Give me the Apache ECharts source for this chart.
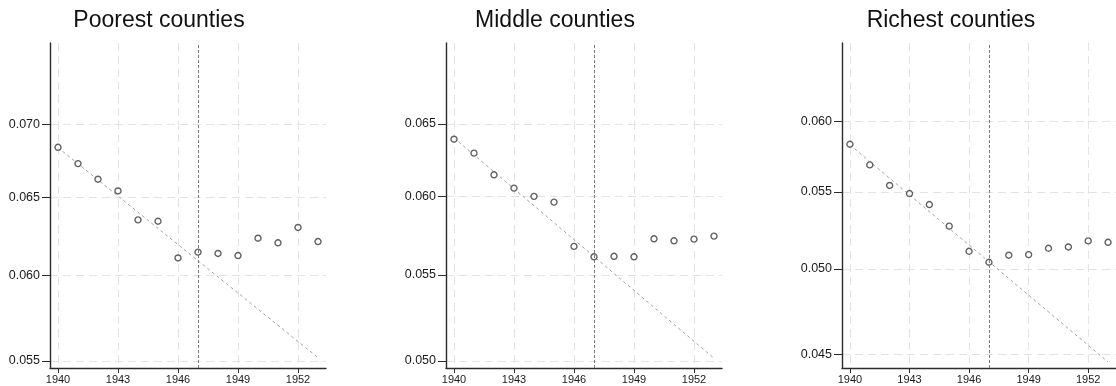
<!DOCTYPE html>
<html>
<head>
<meta charset="utf-8">
<script src="https://cdn.jsdelivr.net/npm/echarts@6/dist/echarts.min.js"></script>
<style>
  html, body { margin: 0; padding: 0; background: #fff; }
  #chart { width: 1116px; height: 386px; }
</style>
</head>
<body>
<div id="chart"></div>
<script>
// Years on the horizontal axis
const years = [1940, 1941, 1942, 1943, 1944, 1945, 1946, 1947, 1948, 1949, 1950, 1951, 1952, 1953];
const xTicks = [1940, 1943, 1946, 1949, 1952];
const breakYear = 1947;

// Panel titles
const titles = ['Poorest counties', 'Middle counties', 'Richest counties'];

// Yearly values per county group
const poorest = [0.06840, 0.06727, 0.06621, 0.06542, 0.06352, 0.06343, 0.06110, 0.06146, 0.06138, 0.06125, 0.06234, 0.06205, 0.06303, 0.06213];
const middle  = [0.06391, 0.06293, 0.06144, 0.06054, 0.05999, 0.05961, 0.05676, 0.05611, 0.05614, 0.05611, 0.05724, 0.05711, 0.05722, 0.05741];
const richest = [0.05834, 0.05687, 0.05544, 0.05489, 0.05415, 0.05272, 0.05111, 0.05042, 0.05086, 0.05090, 0.05130, 0.05138, 0.05177, 0.05168];

// Pre-period trend, extrapolated: values at the first and last year
const trendYears = [1940, 1953];
const poorestTrend = [0.06838, 0.05519];
const middleTrend  = [0.06400, 0.05015];
const richestTrend = [0.05830, 0.04457];

// Y tick labels per panel
const poorestTicks = [0.055, 0.060, 0.065, 0.070];
const middleTicks  = [0.050, 0.055, 0.060, 0.065];
const richestTicks = [0.045, 0.050, 0.055, 0.060];

// Y ranges (log scale)
const poorestRange = [0.05461, 0.07608];
const middleRange  = [0.04961, 0.07109];
const richestRange = [0.04424, 0.06612];

const panels = [
  { values: poorest, trend: poorestTrend, ticks: poorestTicks, range: poorestRange },
  { values: middle,  trend: middleTrend,  ticks: middleTicks,  range: middleRange },
  { values: richest, trend: richestTrend, ticks: richestTicks, range: richestRange }
];

const FONT = '"Liberation Sans", Arial, Helvetica, sans-serif';
const gridLefts = [50, 446, 842];
const titleCenters = [154, 550, 946];

const gridLine = { show: true, lineStyle: { color: '#e3e3e3', type: [8, 5], width: 1 } };
const axisLine = { show: true, onZero: false, lineStyle: { color: '#2b2b2b', width: 1.4 } };

const option = {
  animation: false,
  backgroundColor: '#ffffff',
  title: titles.map((t, i) => ({
    text: t,
    left: titleCenters[i],
    top: 4,
    textAlign: 'center',
    textStyle: { fontFamily: FONT, fontSize: 23, fontWeight: 'normal', color: '#111' }
  })),
  grid: gridLefts.map(l => ({ left: l, top: 43, width: 276, height: 325 })),
  xAxis: panels.map((p, i) => ({
    type: 'value',
    gridIndex: i,
    min: 1939.6,
    max: 1953.4,
    axisLine: axisLine,
    axisTick: { show: true, length: 5, customValues: xTicks, lineStyle: { color: '#2b2b2b', width: 1 } },
    axisLabel: {
      customValues: xTicks,
      fontFamily: FONT, fontSize: 11, color: '#1a1a1a', margin: 6,
      formatter: v => String(v)
    },
    splitLine: gridLine
  })),
  yAxis: panels.map((p, i) => ({
    type: 'log',
    logBase: 10,
    gridIndex: i,
    min: p.range[0],
    max: p.range[1],
    axisLine: axisLine,
    axisTick: { show: true, length: 8, customValues: p.ticks, lineStyle: { color: '#2b2b2b', width: 1 } },
    axisLabel: {
      customValues: p.ticks,
      fontFamily: FONT, fontSize: 12.5, color: '#1a1a1a', margin: 10,
      formatter: v => Number(v).toFixed(3)
    },
    splitLine: gridLine
  })),
  series: panels.flatMap((p, i) => [
    {
      type: 'line',
      xAxisIndex: i,
      yAxisIndex: i,
      data: trendYears.map((y, k) => [y, p.trend[k]]),
      showSymbol: false,
      symbol: 'none',
      silent: true,
      lineStyle: { color: '#a3a3a3', width: 1, type: [3, 3] },
      z: 2
    },
    {
      type: 'scatter',
      xAxisIndex: i,
      yAxisIndex: i,
      data: years.map((y, k) => [y, p.values[k]]),
      symbol: 'circle',
      symbolSize: 6,
      itemStyle: { color: '#ffffff', borderColor: '#3a3a3a', borderWidth: 1.4 },
      z: 3,
      markLine: {
        silent: true,
        symbol: ['none', 'none'],
        label: { show: false },
        lineStyle: { color: '#7a7a7a', width: 1, type: [3, 2] },
        data: [{ xAxis: breakYear }]
      }
    }
  ])
};

const chart = echarts.init(document.getElementById('chart'), null, { renderer: 'canvas' });
chart.setOption(option);
</script>
</body>
</html>
